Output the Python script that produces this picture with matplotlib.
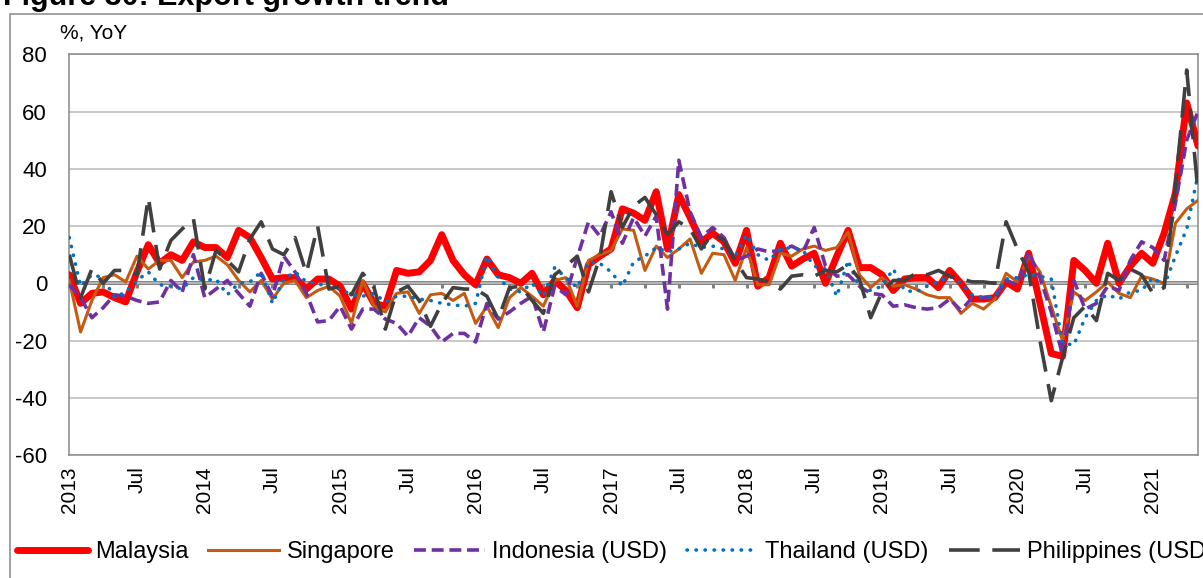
import numpy as np
import matplotlib
matplotlib.use('Agg')
import matplotlib.pyplot as plt
from matplotlib.patches import Rectangle

plt.rcParams['font.family'] = ['Liberation Sans', 'DejaVu Sans']

# monthly YoY export growth, Jan 2013 - May 2021
malaysia = [3, -7, -3.5, -3, -5, -6.5, 4, 13.5, 7, 10, 8, 14.5,
            12.5, 12.5, 9, 18.5, 16, 9, 1.5, 2, 2, -2, 1.5, 1.5,
            -1, -9, 0, -7, -8, 4.5, 3.5, 4, 8, 17, 8, 3,
            -0.5, 8.5, 3, 2, 0, 3.5, -4, 1, -2.5, -8.5, 6.5, 9.5,
            12, 26, 24.5, 22, 32, 12, 31, 23, 14.5, 17.5, 14.5, 7,
            18.5, -1, 2, 14, 6, 8.5, 10.5, 0, 9.5, 18.5, 5.5, 5.5,
            3, -2.5, 1.5, 2, 2, -1.5, 4.5, 0, -5.5, -5.5, -5, 0.5,
            -2, 10.5, -7, -24.5, -25.5, 8, 4.5, 0, 14, 0, 6, 10.5,
            7, 17.5, 31.5, 63, 48]
singapore = [1, -17, -6, 2, 3, 0.5, 9.5, 5, 8, 8, 2, 7.5,
             8, 9.5, 6.5, 1, -3, 1, -5.5, 0, 1, -5, -2.5, -1,
             -4.5, -14, 1, -8, -10, -3.5, -3, -10.5, -4, -3.5, -6, -3.5,
             -14, -8, -15.5, -5, -1.5, -4.5, -8, 1, 2, -8, 8, 10,
             11.5, 19, 18.5, 4.5, 13, 9, 12, 15.5, 3.5, 10.5, 10, 1,
             12.5, -0.5, -0.5, 10.5, 9.5, 12, 13, 11.5, 12.5, 18, 3, -1.5,
             2, -1, -0.5, -2, -4, -5, -5, -10.5, -7, -9, -5.5, 3.5,
             0.5, 9.5, 4, -8, -20, -3, -6, -3, 0.5, -3.5, -5, 2.5,
             1.5, 0, 21, 26, 29]
indonesia = [-0.5, -5, -12, -8.5, -4, -4.5, -6, -7, -6.5, 1, -3, 10,
             -5, -2, 1, -3.5, -8, 3.5, -4.5, 9.5, 4, -3.5, -13.5, -13,
             -8, -16, -9, -9, -12.5, -14, -18.5, -12, -15, -20.5, -17.5, -17.5,
             -20.5, -7, -12.5, -10, -7, -4.5, -17, -1, -4, 9, 21.5, 16.5,
             25, 14, 23, 16.5, 23.5, -9, 43, 25, 16, 19.5, 16, 8,
             9.5, 12, 11, 11.5, 13, 11, 19.5, 6, 2.5, 3, -1, -3.5,
             -4, -8, -7.5, -8.5, -9, -8.5, -5.5, -9.5, -5, -5, -5, 1,
             -0.5, 11, 2, -10, -25, 1, -9, -7, -1, -2.5, 8, 14.5,
             12.5, 8, 28, 50, 60]
thailand = [16, -1, 3, 2, -5, -3, 1, 4, -0.5, -1, -2, 2,
            1, 1.5, -4, 0, 0.5, 4, -7, 1.5, 4, 0.5, 0, -1.5,
            -2, -4, -4.5, -3.5, -6.5, -4.5, -4.5, -5.5, -6, -7, -7.5, -8,
            -7, 9.5, 2, -2, -3, 0, -4.5, 5.5, 2, -1.5, 7.5, 7,
            4, -1, 7.5, 9.5, 12.5, 11, 12, 14, 12.5, 13, 12, 9.5,
            17, 10, 8, 12, 12.5, 11.5, 6, 5, -4.5, 8, -1.5, -2.5,
            -1, 5, -2.5, -3, -1, 0.5, 2.5, 0, -4, -5, -4.5, 1.5,
            2, 3, 2.5, 1.5, -21, -21.5, -12, -6, -4, -5.5, -3, -2.5,
            2, -1, 9.5, 19, 38]
philippines = [10, -5, 5, 0, 4.5, 4.5, 3, 30, 5, 15, 19, 22.5,
               -2, 11.5, 8, 4, 15.5, 21.5, 12, 10, 16, 3.5, 20, -2,
               -1, -4, 3.5, -1.5, -16, -3, -1, -6, -15, -7, -1.5, -2,
               -2, -4.5, -12.5, -1.5, -1, -6, -10.5, 3, 6, 9.5, -3, 9,
               32, 19.5, 27, 30, 24, 17, 21.5, 19, 12, 17.5, 15, 8,
               2, 1.5, 0.5, -2, 2.5, 3, 2.5, 4.5, 4, 6.5, 1.5, -12,
               -3, 1, 1, 3.5, 3, 4.5, 2.5, 1.5, 0.5, 0.5, 0, 21.5,
               12, 4, -20, -41, -26, -12, -8, -13, 3.5, 1, 5, 3,
               -3.5, -1.5, 34, 74.5, 32]

years = list(range(2013, 2022))
tick_labels = []
for yr in years:
    tick_labels += [str(yr), 'Jul']
tick_labels = tick_labels[:-1]

x = np.arange(len(malaysia))

W, H = 1203, 578
fig = plt.figure(figsize=(W / 100, H / 100), dpi=100)
ax = fig.add_axes([69.3 / W, 1 - 455.1 / H, (1198 - 69.3) / W, (455.1 - 54.3) / H])

ax.plot(x, malaysia, color='#FF0000', lw=5, solid_capstyle='round',
        solid_joinstyle='round', label='Malaysia', zorder=3)
ax.plot(x, singapore, color='#C55A11', lw=2.2, label='Singapore', zorder=3)
ax.plot(x, indonesia, color='#7030A0', lw=2.6, ls=(0, (3.3, 1.6)),
        label='Indonesia (USD)', zorder=3)
ax.plot(x, thailand, color='#0070C0', lw=2.6, ls=(0, (0.1, 2.4)),
        dash_capstyle='round', label='Thailand (USD)', zorder=3)
ax.plot(x, philippines, color='#404040', lw=2.6, ls=(0, (8.5, 3.5)),
        label='Philippines (USD)', zorder=3)

ax.set_xlim(0, len(x) - 1)
ax.set_ylim(-60, 80)
ax.set_yticks(np.arange(-60, 81, 20))
ax.set_yticklabels([str(v) for v in range(-60, 81, 20)])
ax.grid(axis='y', color='#BFBFBF', lw=1.2, zorder=0)
ax.axhline(0, color='#808080', lw=2.8, zorder=1.5)

ax.set_xticks(x[::6])
ax.set_xticklabels(tick_labels, rotation=90)
ax.tick_params(axis='x', length=0, pad=8, labelsize=15)
ax.tick_params(axis='y', length=0, pad=16, labelsize=16)
for s in ax.spines.values():
    s.set_color('#898989')
    s.set_linewidth(1.1)

# small tick marks hanging off the zero line
zero_ax = ax.secondary_xaxis(60 / 140)
zero_ax.set_xticks(x[::3])
zero_ax.set_xticklabels([])
zero_ax.spines['bottom'].set_visible(False)
zero_ax.tick_params(direction='out', length=3.5, width=2.2, color='#808080')

fig.text(60 / W, 1 - 33 / H, '%, YoY', fontsize=15, va='center', ha='left')
fig.text(3 / W, 1 - 4.5 / H, 'Figure 30: Export growth trend', fontsize=22,
         fontweight='bold', va='baseline', ha='left')

fig.patches.append(Rectangle((10 / W, -0.05), 1.2, 1.05 - 14 / H, transform=fig.transFigure,
                             fill=False, edgecolor='#878787', lw=1.1))

ax.legend(loc='center left', bbox_to_anchor=(17 / W, 1 - 552 / H),
          bbox_transform=fig.transFigure, ncol=5, frameon=False, fontsize=17,
          handlelength=3.0, handletextpad=0.3, columnspacing=0.85,
          borderpad=0, borderaxespad=0)

fig.savefig('out.png', dpi=100)
